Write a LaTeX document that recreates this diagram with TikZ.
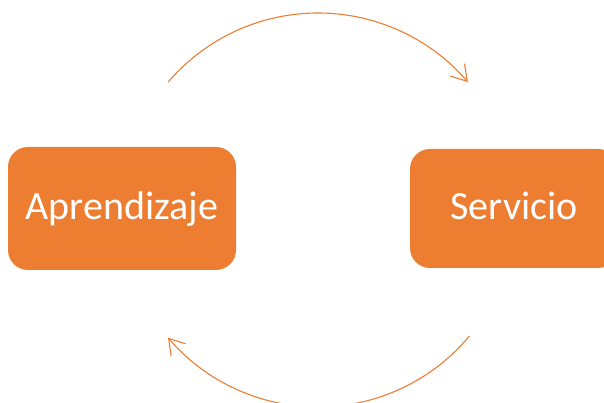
\documentclass[tikz,border=0pt]{standalone}
\usepackage{fontspec}
\setmainfont{Carlito}
\usetikzlibrary{arrows.meta}
\definecolor{accent}{HTML}{ED7D31}
\tikzset{
  box/.style={fill=accent, draw=none, rounded corners=20pt},
  lbl/.style={text=white, font=\fontsize{40}{46}\selectfont, anchor=base, inner sep=0pt},
  cyc/.style={draw=accent, line width=1.1pt, -{Straight Barb[length=15pt,width=19pt,line width=1.1pt]}}
}
\begin{document}
\begin{tikzpicture}[x=1pt,y=1pt]
\useasboundingbox (0,0) rectangle (604,403);
\clip (0,0) rectangle (604,403);
\path[box] (8,133) rectangle (236,256);
\path[box] (410,135) rectangle (618,254);
\node[lbl] (a) at (122,183) {Aprendizaje};
\node[lbl] (s) at (514,183) {Servicio};
\coordinate (c) at (318,193);
\draw[cyc] ([shift={(139.5:197)}]c) arc[start angle=139.5, end angle=40.5, radius=197];
\draw[cyc] ([shift={(-39.8:197)}]c) arc[start angle=-39.8, end angle=-139.6, radius=197];
\end{tikzpicture}
\end{document}
